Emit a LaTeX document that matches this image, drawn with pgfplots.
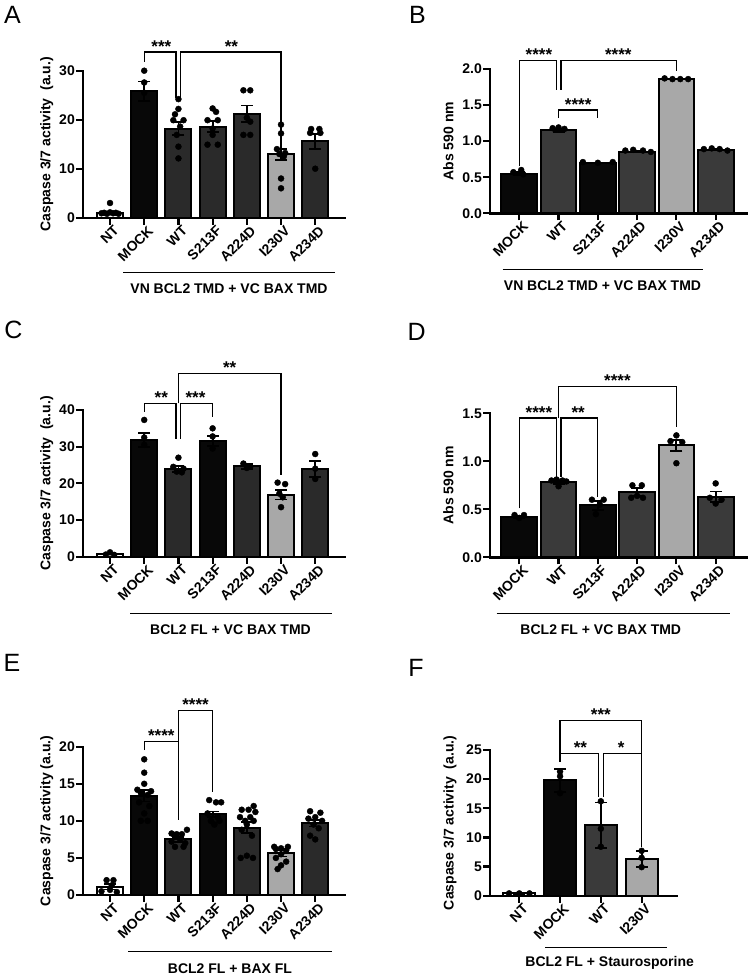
\documentclass[border=0pt]{standalone}
\usepackage{pgfplots}
\pgfplotsset{compat=1.18}
\usepackage{fontspec}
\setmainfont{Liberation Sans}

\definecolor{cblk}{HTML}{080808}
\definecolor{cdk}{HTML}{2A2A2A}
\definecolor{cmd}{HTML}{3A3A3A}
\definecolor{clt}{HTML}{A8A8A8}

\newcommand{\gpbar}[4]{\addplot[ybar, bar shift=0pt, bar width=#4, fill=#3, draw=black, line width=2pt] coordinates {(#1,#2)};}
% error bar: x, low, high
\newcommand{\gperr}[3]{%
  \addplot[black, line width=1.8pt, mark=none] coordinates {(#1,#2) (#1,#3)};%
  \addplot[only marks, mark=-, mark size=6pt, black, mark options={line width=1.8pt}] coordinates {(#1,#2) (#1,#3)};}
\newcommand{\gppts}[1]{\addplot[only marks, mark=*, mark size=3pt, black, mark options={fill=black, draw=black}] coordinates {#1};}
\newcommand{\stars}[3]{\node[anchor=base, inner sep=0pt, font=\bfseries\fontsize{17}{17}\selectfont] at (axis cs:#1,#2) {#3};}

\tikzset{gpbr/.style={line width=1.3pt, black}}
\pgfplotsset{
  gp/.style={
    scale only axis, anchor=south west,
    axis lines=left, axis line style={-, line width=2.4pt, line cap=rect},
    clip=false, enlargelimits=false, ymin=0,
    tick align=outside, major tick length=7pt,
    every tick/.style={line width=2.2pt, black},
    ticklabel style={font=\bfseries\fontsize{14}{16}\selectfont},
    label style={font=\bfseries\fontsize{14}{16}\selectfont},
    /pgf/number format/assume math mode=true,
    xticklabel style={rotate=45, anchor=north east, inner sep=1pt, xshift=3pt, yshift=-1pt},
    yticklabel style={inner sep=1pt},
  },
}

\begin{document}
\begin{tikzpicture}[x=1pt,y=1pt]
\path[use as bounding box] (0pt,0pt) rectangle (750pt,-975pt);

% ---------------- Panel A ----------------
\begin{axis}[gp, at={(83pt,-217.7pt)}, width=262pt, height=147pt,
  xmin=-0.79, xmax=6.87, ymax=30, ytick={0,10,20,30},
  xtick={0,...,6}, xticklabels={NT,MOCK,WT,S213F,A224D,I230V,A234D},
  ylabel={Caspase 3/7 activity\ \ (a.u.)},
  ylabel style={at={(axis description cs:-0.1385,0.5)}, anchor=center}]
\gpbar{0}{1.0}{white}{0.76}
\gpbar{1}{25.8}{cblk}{0.76}
\gpbar{2}{18.2}{cdk}{0.76}
\gpbar{3}{18.6}{cdk}{0.76}
\gpbar{4}{21.2}{cdk}{0.76}
\gpbar{5}{12.9}{clt}{0.76}
\gpbar{6}{15.6}{cdk}{0.76}
\gperr{0}{0.8}{1.2}
\gperr{1}{23.8}{27.8}
\gperr{2}{16.9}{19.5}
\gperr{3}{17.5}{19.7}
\gperr{4}{19.5}{22.9}
\gperr{5}{11.7}{14.1}
\gperr{6}{14.1}{17.1}
\gppts{(-0.25,0.9)(-0.17,1.0)(-0.09,0.8)(0,3.0)(0,1.1)(0.09,0.9)(0.17,1.0)(0.25,0.8)}
\gppts{(1,30)(1,27.6)(1,25.5)}
\gppts{(2,24.2)(2,22.2)(1.9,21.1)(1.85,19.9)(2.15,19.9)(2.05,18.6)(1.95,16.9)(2,14.5)(2,12.1)}
\gppts{(3,22.3)(3.1,21.6)(2.85,19.9)(3.15,19.9)(3,18.2)(3,16.9)(2.85,14.9)(3.15,14.9)}
\gppts{(3.9,26)(4.1,26)(4,20.4)(4.1,19.6)(3.9,16.9)(4.1,16.9)}
\gppts{(5,19)(5,17.2)(4.88,14)(5.12,13.2)(4.95,13)(5.08,12.5)(5,8)(5,6)}
\gppts{(5.88,18.1)(6.12,18.1)(5.85,17.3)(6.15,17.3)(6,10)}
\draw[gpbr] (axis cs:1,31.8) -- (axis cs:1,33.8) -- (axis cs:1.93,33.8) -- (axis cs:1.93,24.4);
\draw[gpbr] (axis cs:2.07,24.4) -- (axis cs:2.07,33.8) -- (axis cs:5,33.8) -- (axis cs:5,13.5);
\stars{1.5}{33.8}{***}
\stars{3.55}{33.8}{**}
\end{axis}

% ---------------- Panel B ----------------
\begin{axis}[gp, at={(490pt,-213.3pt)}, width=256.7pt, height=144.3pt,
  xmin=-0.745, xmax=5.79, ymax=2, ytick={0,0.5,1,1.5,2},
  yticklabel style={/pgf/number format/.cd, fixed, fixed zerofill, precision=1},
  xtick={0,...,5}, xticklabels={MOCK,WT,S213F,A224D,I230V,A234D},
  ylabel={Abs 590 nm},
  ylabel style={at={(axis description cs:-0.1625,0.5)}, anchor=center}]
\gpbar{0}{0.55}{cblk}{0.91}
\gpbar{1}{1.15}{cmd}{0.91}
\gpbar{2}{0.70}{cblk}{0.91}
\gpbar{3}{0.855}{cmd}{0.91}
\gpbar{4}{1.86}{clt}{0.91}
\gpbar{5}{0.88}{cmd}{0.91}
\gperr{0}{0.53}{0.57}
\gperr{1}{1.13}{1.17}
\gperr{2}{0.695}{0.705}
\gperr{3}{0.845}{0.865}
\gperr{4}{1.855}{1.865}
\gperr{5}{0.87}{0.89}
\gppts{(-0.15,0.57)(0.05,0.60)(0.1,0.54)}
\gppts{(0.85,1.18)(1,1.19)(1.15,1.17)}
\gppts{(1.62,0.71)(2,0.70)(2.38,0.71)}
\gppts{(2.7,0.87)(2.9,0.88)(3.15,0.87)(3.35,0.85)}
\gppts{(3.7,1.87)(3.9,1.86)(4.1,1.86)(4.3,1.86)}
\gppts{(4.7,0.89)(4.9,0.90)(5.1,0.89)(5.3,0.87)}
\draw[gpbr] (axis cs:0,0.65) -- (axis cs:0,2.12) -- (axis cs:0.94,2.12) -- (axis cs:0.94,1.71);
\draw[gpbr] (axis cs:1.06,1.71) -- (axis cs:1.06,2.12) -- (axis cs:4,2.12) -- (axis cs:4,1.975);
\draw[gpbr] (axis cs:1,1.32) -- (axis cs:1,1.43) -- (axis cs:2,1.43) -- (axis cs:2,1.32);
\stars{0.5}{2.12}{****}
\stars{2.52}{2.12}{****}
\stars{1.5}{1.43}{****}
\end{axis}

% ---------------- Panel C ----------------
\begin{axis}[gp, at={(83pt,-556.7pt)}, width=262pt, height=146.7pt,
  xmin=-0.79, xmax=6.87, ymax=40, ytick={0,10,20,30,40},
  xtick={0,...,6}, xticklabels={NT,MOCK,WT,S213F,A224D,I230V,A234D},
  ylabel={Caspase 3/7 activity\ \ (a.u.)},
  ylabel style={at={(axis description cs:-0.1385,0.5)}, anchor=center}]
\gpbar{0}{0.8}{white}{0.76}
\gpbar{1}{31.8}{cblk}{0.76}
\gpbar{2}{24.0}{cdk}{0.76}
\gpbar{3}{31.6}{cblk}{0.76}
\gpbar{4}{24.6}{cdk}{0.76}
\gpbar{5}{16.9}{clt}{0.76}
\gpbar{6}{23.9}{cdk}{0.76}
\gperr{0}{0.6}{1.0}
\gperr{1}{29.9}{33.7}
\gperr{2}{23.2}{24.8}
\gperr{3}{30.2}{33.0}
\gperr{4}{24.0}{25.2}
\gperr{5}{15.6}{18.2}
\gperr{6}{21.7}{26.1}
\gppts{(-0.12,0.6)(0,1.2)(0.12,0.5)}
\gppts{(1,37.3)(1,32.5)(1,30.5)}
\gppts{(2,27)(1.85,24.5)(2.15,24)(1.95,23.2)(2.1,23)}
\gppts{(3,35)(3,32.8)(3,29.5)}
\gppts{(3.9,25.4)(4.1,24.6)(4,24.2)}
\gppts{(4.9,20.2)(5.12,19.8)(4.95,17.2)(5.05,16.2)(5,13.5)}
\gppts{(6,28)(6,24)(6,21.2)}
\draw[gpbr] (axis cs:1,39.5) -- (axis cs:1,41.8) -- (axis cs:1.93,41.8) -- (axis cs:1.93,32.1);
\draw[gpbr] (axis cs:2.07,32.1) -- (axis cs:2.07,41.8) -- (axis cs:3,41.8) -- (axis cs:3,38.2);
\draw[gpbr] (axis cs:2,41.8) -- (axis cs:2,50) -- (axis cs:5,50) -- (axis cs:5,22.3);
\stars{1.5}{41.8}{**}
\stars{2.5}{41.8}{***}
\stars{3.5}{50}{**}
\end{axis}

% ---------------- Panel D ----------------
\begin{axis}[gp, at={(490pt,-557.3pt)}, width=256.7pt, height=144pt,
  xmin=-0.745, xmax=5.79, ymax=1.5, ytick={0,0.5,1,1.5},
  yticklabel style={/pgf/number format/.cd, fixed, fixed zerofill, precision=1},
  xtick={0,...,5}, xticklabels={MOCK,WT,S213F,A224D,I230V,A234D},
  ylabel={Abs 590 nm},
  ylabel style={at={(axis description cs:-0.1625,0.5)}, anchor=center}]
\gpbar{0}{0.42}{cblk}{0.91}
\gpbar{1}{0.78}{cmd}{0.91}
\gpbar{2}{0.54}{cblk}{0.91}
\gpbar{3}{0.68}{cmd}{0.91}
\gpbar{4}{1.165}{clt}{0.91}
\gpbar{5}{0.63}{cmd}{0.91}
\gperr{0}{0.405}{0.435}
\gperr{1}{0.76}{0.80}
\gperr{2}{0.495}{0.585}
\gperr{3}{0.635}{0.725}
\gperr{4}{1.105}{1.225}
\gperr{5}{0.575}{0.685}
\gppts{(-0.12,0.44)(0.12,0.44)(0,0.41)}
\gppts{(0.82,0.80)(0.95,0.81)(1.1,0.80)(1.2,0.79)(1,0.74)}
\gppts{(1.85,0.60)(2.15,0.60)(2.05,0.55)(1.95,0.45)}
\gppts{(2.88,0.75)(3.12,0.75)(3,0.64)(2.85,0.62)(3.15,0.62)}
\gppts{(4,1.27)(3.85,1.21)(4.15,1.20)(4,0.98)}
\gppts{(5,0.77)(4.85,0.62)(5.15,0.60)(5,0.56)}
\draw[gpbr] (axis cs:0,0.51) -- (axis cs:0,1.45) -- (axis cs:0.94,1.45) -- (axis cs:0.94,0.84);
\draw[gpbr] (axis cs:1.06,0.84) -- (axis cs:1.06,1.45) -- (axis cs:2,1.45) -- (axis cs:2,0.63);
\draw[gpbr] (axis cs:1,1.45) -- (axis cs:1,1.78) -- (axis cs:4,1.78) -- (axis cs:4,1.36);
\stars{0.5}{1.45}{****}
\stars{1.5}{1.45}{**}
\stars{2.5}{1.78}{****}
\end{axis}

% ---------------- Panel E ----------------
\begin{axis}[gp, at={(83pt,-895pt)}, width=262pt, height=148.3pt,
  xmin=-0.79, xmax=6.87, ymax=20, ytick={0,5,10,15,20},
  xtick={0,...,6}, xticklabels={NT,MOCK,WT,S213F,A224D,I230V,A234D},
  ylabel={Caspase 3/7 activity (a.u.)},
  ylabel style={at={(axis description cs:-0.1385,0.5)}, anchor=center}]
\gpbar{0}{1.1}{white}{0.76}
\gpbar{1}{13.4}{cblk}{0.76}
\gpbar{2}{7.5}{cdk}{0.76}
\gpbar{3}{10.9}{cblk}{0.76}
\gpbar{4}{9.1}{cdk}{0.76}
\gpbar{5}{5.6}{clt}{0.76}
\gpbar{6}{9.7}{cdk}{0.76}
\gperr{0}{0.75}{1.45}
\gperr{1}{12.6}{14.2}
\gperr{2}{7.2}{7.8}
\gperr{3}{10.55}{11.25}
\gperr{4}{8.4}{9.8}
\gperr{5}{5.2}{6.0}
\gperr{6}{9.25}{10.15}
\gppts{(-0.1,2.0)(0.1,2.0)(-0.25,0.5)(0,0.7)(0.2,0.4)(0.05,1.3)}
\gppts{(1,18.3)(1,16.5)(1,15)(0.8,14.2)(1.2,14)(0.9,13.8)(1.1,13.5)(0.85,12.5)(1.15,12)(1,11)(0.9,10)(1.1,10)}
\gppts{(2.25,8.8)(1.8,8.3)(1.95,8.2)(2.1,8.2)(1.88,8.1)(2.05,7.5)(1.8,7.2)(2.2,7.0)(1.9,6.5)(2.15,6.5)}
\gppts{(2.9,12.8)(3.1,12.5)(3.25,12.5)(2.85,11)(3.15,10.5)(2.95,10)(3.2,10)(3.05,9.5)}
\gppts{(4.2,12)(3.85,11.5)(4.05,11.5)(4.25,11.2)(3.8,10.5)(4.1,10.5)(3.95,10)(4.2,10)(4,9.5)(3.85,8.8)(4.15,8)(3.82,5)(4.18,5)(4,5.3)}
\gppts{(4.8,6.5)(5.2,6.5)(5,6.3)(4.85,6.2)(5.15,6.0)(5,5.5)(4.85,5)(5.15,4.5)(5,4)(4.9,3.5)}
\gppts{(5.85,11.3)(6.15,11.1)(6,10.5)(5.8,10.3)(6.2,10)(5.95,9.5)(6.1,9)(5.85,8)(6,7.5)}
\draw[gpbr] (axis cs:1,19.55) -- (axis cs:1,20.7) -- (axis cs:2,20.7) -- (axis cs:2,10.1);
\draw[gpbr] (axis cs:2,20.7) -- (axis cs:2,24.9) -- (axis cs:3,24.9) -- (axis cs:3,13.9);
\stars{1.5}{20.7}{****}
\stars{2.5}{24.9}{****}
\end{axis}

% ---------------- Panel F ----------------
\begin{axis}[gp, at={(490pt,-895.7pt)}, width=186.7pt, height=145.7pt,
  xmin=-0.718, xmax=3.86, ymax=25, ytick={0,5,10,15,20,25},
  xtick={0,...,3}, xticklabels={NT,MOCK,WT,I230V},
  ylabel={Caspase 3/7 activity\ \ (a.u.)},
  ylabel style={at={(axis description cs:-0.214,0.5)}, anchor=center}]
\gpbar{0}{0.4}{white}{0.78}
\gpbar{1}{19.8}{cblk}{0.78}
\gpbar{2}{12.1}{cmd}{0.78}
\gpbar{3}{6.3}{clt}{0.78}
\gperr{0}{0.35}{0.45}
\gperr{1}{17.8}{21.8}
\gperr{2}{8.2}{16.0}
\gperr{3}{4.9}{7.7}
\gppts{(-0.25,0.4)(0,0.4)(0.25,0.4)}
\gppts{(1,21.3)(1,20.5)(1,17.6)}
\gppts{(2,16.2)(2,11.5)(2,8.4)}
\gppts{(3,7.7)(3,6.5)(3,4.9)}
\draw[gpbr] (axis cs:1,23.0) -- (axis cs:1,24.4) -- (axis cs:1.94,24.4) -- (axis cs:1.94,17.0);
\draw[gpbr] (axis cs:2.06,17.0) -- (axis cs:2.06,24.4) -- (axis cs:3,24.4) -- (axis cs:3,8.4);
\draw[gpbr] (axis cs:1,24.4) -- (axis cs:1,30.1) -- (axis cs:3,30.1) -- (axis cs:3,24.4);
\stars{1.5}{24.4}{**}
\stars{2.5}{24.4}{*}
\stars{2}{30.1}{***}
\end{axis}

% ---------------- group lines, labels, panel letters ----------------
\begin{scope}[font=\bfseries\fontsize{14}{16}\selectfont]
\draw[line width=1.5pt] (123pt,-272.7pt) -- (335pt,-272.7pt);
\node at (229pt,-288.3pt) {VN BCL2 TMD + VC BAX TMD};
\draw[line width=1.5pt] (502.7pt,-269.3pt) -- (703.3pt,-269.3pt);
\node at (602.5pt,-286pt) {VN BCL2 TMD + VC BAX TMD};
\draw[line width=1.5pt] (130pt,-613.3pt) -- (331.7pt,-613.3pt);
\node at (230.5pt,-630pt) {BCL2 FL + VC BAX TMD};
\draw[line width=1.5pt] (496.7pt,-613.3pt) -- (730pt,-613.3pt);
\node at (600.8pt,-630pt) {BCL2 FL + VC BAX TMD};
\draw[line width=1.5pt] (128.3pt,-951.7pt) -- (331.7pt,-951.7pt);
\node at (230pt,-968.3pt) {BCL2 FL + BAX FL};
\draw[line width=1.5pt] (545pt,-947.7pt) -- (666.7pt,-947.7pt);
\node at (609.7pt,-963.3pt) {BCL2 FL + Staurosporine};
\end{scope}
\begin{scope}[font=\fontsize{25}{25}\selectfont]
\node at (12.5pt,-15pt) {A};
\node at (417.5pt,-15pt) {B};
\node at (13.5pt,-330pt) {C};
\node at (416.7pt,-331.7pt) {D};
\node at (12pt,-663pt) {E};
\node at (416pt,-668pt) {F};
\end{scope}
\end{tikzpicture}
\end{document}
